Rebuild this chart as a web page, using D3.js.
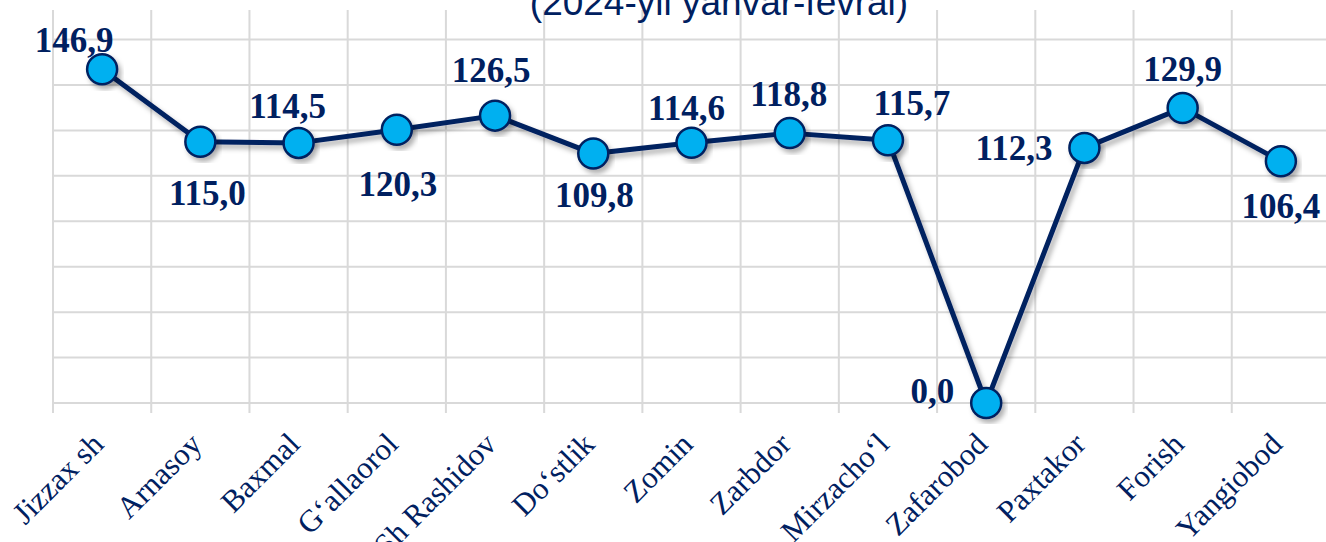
<!DOCTYPE html>
<html>
<head>
<meta charset="utf-8">
<script src="https://cdn.jsdelivr.net/npm/d3@7"></script>
<style>
  body { margin: 0; background: #fff; }
  svg { display: block; }
</style>
</head>
<body>
<svg id="chart"></svg>
<script>
// data
var districts = ["Jizzax sh", "Arnasoy", "Baxmal", "G\u2018allaorol", "Sh Rashidov", "Do\u2018stlik",
                 "Zomin", "Zarbdor", "Mirzacho\u2018l", "Zafarobod", "Paxtakor", "Forish", "Yangiobod"];
var values = [146.9, 115.0, 114.5, 120.3, 126.5, 109.8, 114.6, 118.8, 115.7, 0.0, 112.3, 129.9, 106.4];
var gridTicks = [0, 20, 40, 60, 80, 100, 120, 140, 160];
var subtitle = "(2024-yil yanvar-fevral)";

// where each value label sits relative to its marker [dx, dy, anchor]
var labelOffsets = [[-28, -17, "middle"], [7, 63, "middle"], [-11, -25, "middle"], [1, 66, "middle"],
                    [-4, -34, "middle"], [1, 53, "middle"], [-5, -23, "middle"], [-1, -27, "middle"],
                    [24, -25, "middle"], [-32, 0, "end"], [-32, 12, "end"], [0, -27, "middle"],
                    [0, 57, "middle"]];

var navy = "#002060";
var screen = {width: 1326, height: 542};
var plot = {left: 53, right: 1330, top: 10, bottom: 403};

var svg = d3.select("#chart")
  .attr("width", screen.width)
  .attr("height", screen.height);

var defs = svg.append("defs");
var shadow = defs.append("filter").attr("id", "shadow")
  .attr("x", "-20%").attr("y", "-20%").attr("width", "140%").attr("height", "140%");
shadow.append("feDropShadow")
  .attr("dx", 3).attr("dy", 4).attr("stdDeviation", 2.5)
  .attr("flood-color", "#000").attr("flood-opacity", 0.3);

var xScale = d3.scaleBand()
  .domain(districts)
  .range([plot.left, plot.right]);
var yScale = d3.scaleLinear()
  .domain([0, 173])
  .range([plot.bottom, plot.top]);

// horizontal grid
svg.append("g").selectAll("line")
  .data(gridTicks)
  .enter()
  .append("line")
  .attr("x1", plot.left)
  .attr("x2", screen.width)
  .attr("y1", function (d) { return yScale(d); })
  .attr("y2", function (d) { return yScale(d); })
  .attr("stroke", "#d9d9d9")
  .attr("stroke-width", 2);

// vertical grid (band edges), running a little below the axis as tick marks
var edges = districts.map(function (d) { return xScale(d); });
edges.push(xScale(districts[districts.length - 1]) + xScale.bandwidth());
svg.append("g").selectAll("line")
  .data(edges)
  .enter()
  .append("line")
  .attr("x1", function (d) { return d; })
  .attr("x2", function (d) { return d; })
  .attr("y1", plot.top)
  .attr("y2", plot.bottom + 10)
  .attr("stroke", "#d9d9d9")
  .attr("stroke-width", 2);

// category labels
var xAxis = d3.axisBottom(xScale).tickSize(0).tickPadding(0);
var xg = svg.append("g")
  .attr("transform", "translate(0," + (plot.bottom + 26) + ")")
  .call(xAxis);
xg.select(".domain").remove();
xg.selectAll("text")
  .attr("font-family", "'Liberation Serif', 'Times New Roman', serif")
  .attr("font-size", 31)
  .attr("fill", navy)
  .attr("text-anchor", "end")
  .attr("y", 0)
  .attr("dy", 0)
  .attr("transform", "translate(3,17) rotate(-45)");

var cx = function (d, i) { return xScale(districts[i]) + xScale.bandwidth() / 2; };
var cy = function (d) { return yScale(d); };

// line
var line = d3.line()
  .x(function (d, i) { return cx(d, i); })
  .y(function (d) { return cy(d); });
svg.append("path")
  .datum(values)
  .attr("d", line)
  .attr("fill", "none")
  .attr("stroke", navy)
  .attr("stroke-width", 5)
  .attr("stroke-linejoin", "round")
  .attr("filter", "url(#shadow)");

// markers
svg.append("g").selectAll("circle")
  .data(values)
  .enter()
  .append("circle")
  .attr("cx", cx)
  .attr("cy", cy)
  .attr("r", 15)
  .attr("fill", "#00b0f0")
  .attr("stroke", navy)
  .attr("stroke-width", 2.5)
  .attr("filter", "url(#shadow)");

// value labels
svg.append("g").selectAll("text")
  .data(values)
  .enter()
  .append("text")
  .attr("x", function (d, i) { return cx(d, i) + labelOffsets[i][0]; })
  .attr("y", function (d, i) { return cy(d) + labelOffsets[i][1]; })
  .attr("text-anchor", function (d, i) { return labelOffsets[i][2]; })
  .attr("font-family", "'Liberation Serif', 'Times New Roman', serif")
  .attr("font-weight", "bold")
  .attr("font-size", 35)
  .attr("fill", navy)
  .text(function (d) { return d3.format(".1f")(d).replace(".", ","); });

// subtitle cut at the top edge
svg.append("text")
  .attr("x", 719)
  .attr("y", 15)
  .attr("text-anchor", "middle")
  .attr("font-family", "'Liberation Sans', Arial, sans-serif")
  .attr("font-size", 37)
  .attr("fill", navy)
  .text(subtitle);
</script>
</body>
</html>
